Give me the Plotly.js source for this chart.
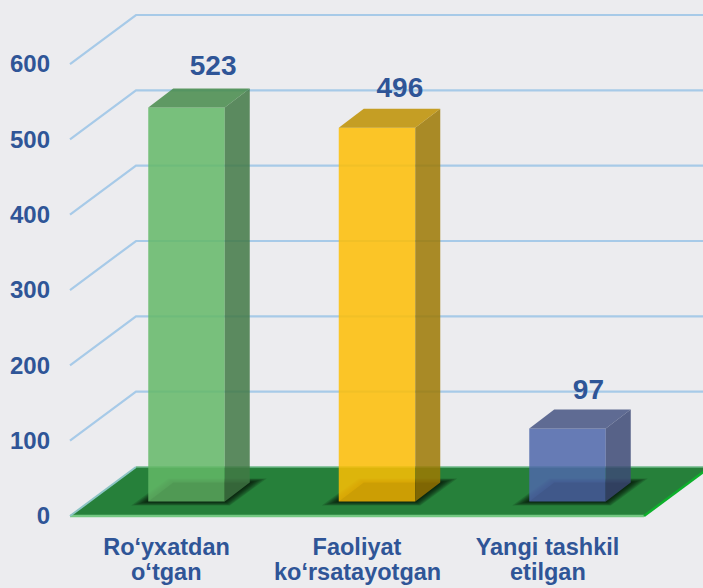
<!DOCTYPE html>
<html>
<head>
<meta charset="utf-8">
<script src="https://cdn.plot.ly/plotly-3.0.1.min.js"></script>
<style>html,body{margin:0;padding:0;background:#ECECEF;overflow:hidden}</style>
</head>
<body>
<div id="chart" style="width:703px;height:588px"></div>
<script>
const categoryFirstLines = ["Ro‘yxatdan", "Faoliyat", "Yangi tashkil"];
const categorySecondLines = ["o‘tgan", "ko‘rsatayotgan", "etilgan"];
const values = [523, 496, 97];
const yTicks = [0, 100, 200, 300, 400, 500, 600];
const frontColors = ["rgba(100,184,103,.85)", "rgba(254,190,4,.85)", "rgba(79,103,170,.85)"];
const sideColors = ["rgba(66,121,69,.85)", "rgba(158,121,2,.85)", "rgba(61,74,117,.85)"];
const topColors = ["rgba(71,139,74,.85)", "rgba(190,145,0,.85)", "rgba(71,85,131,.85)"];
const labelShift = [0.14, 0.12, 0.11];
const labelRise = [39.5, 37.5, 36.5];

const TEXT = "#2F5597", FONT = "Liberation Sans, Arial, sans-serif";
const PXX = 190.5, PXY = 0.7533;
const ux = p => p / PXX, uy = p => p / PXY;
const barW = ux(76.5), barDX = ux(25), barDY = uy(19), lift = uy(14.5);
const wallDX = ux(66), wallDY = uy(49);
const x0Front = -ux(186.5 - 70), x1Front = ux(644 - 186.5);

const path = pts => "M" + pts.map(p => p[0] + " " + p[1]).join(" L") + " Z";
const shapes = [];

// gridlines along the wall
yTicks.slice(1).forEach(v => {
  shapes.push({type: "path", layer: "below", xref: "x", yref: "y",
    path: `M${x0Front} ${v} L${x0Front + wallDX} ${v + wallDY} L${ux(720)} ${v + wallDY}`,
    fillcolor: "rgba(0,0,0,0)", line: {color: "#A7CAE8", width: 2.2}});
});

// floor
const floor = [[x0Front, 0], [x0Front + wallDX, wallDY], [x1Front + wallDX, wallDY], [x1Front, 0]];
shapes.push({type: "path", layer: "below", xref: "x", yref: "y", path: path(floor),
  fillcolor: "#26803A", line: {width: 0}});
shapes.push({type: "line", layer: "below", xref: "x", yref: "y", x0: floor[0][0], y0: 0, x1: floor[3][0], y1: 0,
  line: {color: "#74C882", width: 2.5}});
shapes.push({type: "line", layer: "below", xref: "x", yref: "y", x0: floor[0][0], y0: 0, x1: floor[1][0], y1: floor[1][1],
  line: {color: "#8CC4C4", width: 2}});
shapes.push({type: "line", layer: "below", xref: "x", yref: "y", x0: floor[1][0], y0: floor[1][1], x1: floor[2][0], y1: floor[2][1],
  line: {color: "#6FB98A", width: 1.5}});
shapes.push({type: "line", layer: "below", xref: "x", yref: "y", x0: floor[3][0], y0: 0, x1: floor[2][0], y1: floor[2][1],
  line: {color: "#0DB02B", width: 2.5}});

// soft shadows under the bars
values.forEach((v, i) => {
  [1, 0.85, 0.7, 0.55, 0.4, 0.25, 0.1].forEach(k => {
    const ex = ux(17) * k, ey = uy(4) * k;
    shapes.push({type: "path", layer: "below", xref: "x", yref: "y",
      path: path([
        [i - barW / 2 - ex, lift - ey],
        [i + barW / 2 + ex * 0.3, lift - ey],
        [i + barW / 2 + barDX + ex, lift + barDY + ey],
        [i - barW / 2 + barDX - ex * 0.3, lift + barDY + ey]
      ]),
      fillcolor: "rgba(0,0,0,.15)", line: {width: 0}});
  });
});

const traces = [{
  type: "bar", x: [0, 1, 2], y: values, base: lift, width: barW,
  marker: {color: frontColors, line: {width: 0}}, hoverinfo: "skip"
}];

const poly = (pts, color) => ({
  type: "scatter", mode: "lines", x: pts.map(p => p[0]).concat(pts[0][0]), y: pts.map(p => p[1]).concat(pts[0][1]),
  fill: "toself", fillcolor: color, line: {width: 0}, hoverinfo: "skip"
});

values.forEach((v, i) => {
  const l = i - barW / 2, r = i + barW / 2, b = lift, t = lift + v;
  traces.push(poly([[r, b], [r + barDX, b + barDY], [r + barDX, t + barDY], [r, t]], sideColors[i]));
  traces.push(poly([[l, t], [r, t], [r + barDX, t + barDY], [l + barDX, t + barDY]], topColors[i]));
  traces.push(poly([[l, b], [r, b], [r + barDX, b + barDY], [l + barDX, b + barDY]], "rgba(0,0,0,.06)"));
});

traces.push({
  type: "scatter", mode: "text", x: values.map((v, i) => i + labelShift[i]),
  y: values.map((v, i) => v + lift + uy(labelRise[i])), text: values.map(String), textposition: "middle center",
  textfont: {family: FONT, size: 28, color: TEXT, weight: 700}, hoverinfo: "skip", cliponaxis: false
});

const annotations = categorySecondLines.map((s, i) => ({
  text: s, xref: "x", yref: "paper", x: i - ux(20), y: (528 - 572) / 528, yanchor: "middle", xanchor: "center",
  showarrow: false, font: {family: FONT, size: 23.5, color: TEXT, weight: 700}
}));

const layout = {
  width: 703, height: 588, showlegend: false,
  paper_bgcolor: "#ECECEF", plot_bgcolor: "#ECECEF",
  margin: {l: 60, r: 0, t: 0, b: 60},
  xaxis: {
    range: [-ux(186.5 - 60), ux(703 - 186.5)], showgrid: false, zeroline: false, showline: false,
    tickmode: "array", tickvals: categoryFirstLines.map((c, i) => i - ux(20)), ticktext: categoryFirstLines,
    ticklen: 0, ticklabelstandoff: 2, tickangle: 0,
    tickfont: {family: FONT, size: 23.5, color: TEXT, weight: 700}
  },
  yaxis: {
    range: [-uy(12), uy(516)], showgrid: false, zeroline: false, showline: false,
    tickmode: "array", tickvals: yTicks, ticktext: yTicks.map(String),
    ticklen: 0, ticklabelstandoff: 9,
    tickfont: {family: FONT, size: 24, color: TEXT, weight: 700}
  },
  shapes: shapes, annotations: annotations
};
Plotly.newPlot("chart", traces, layout, {displayModeBar: false, staticPlot: true});
</script>
</body>
</html>
